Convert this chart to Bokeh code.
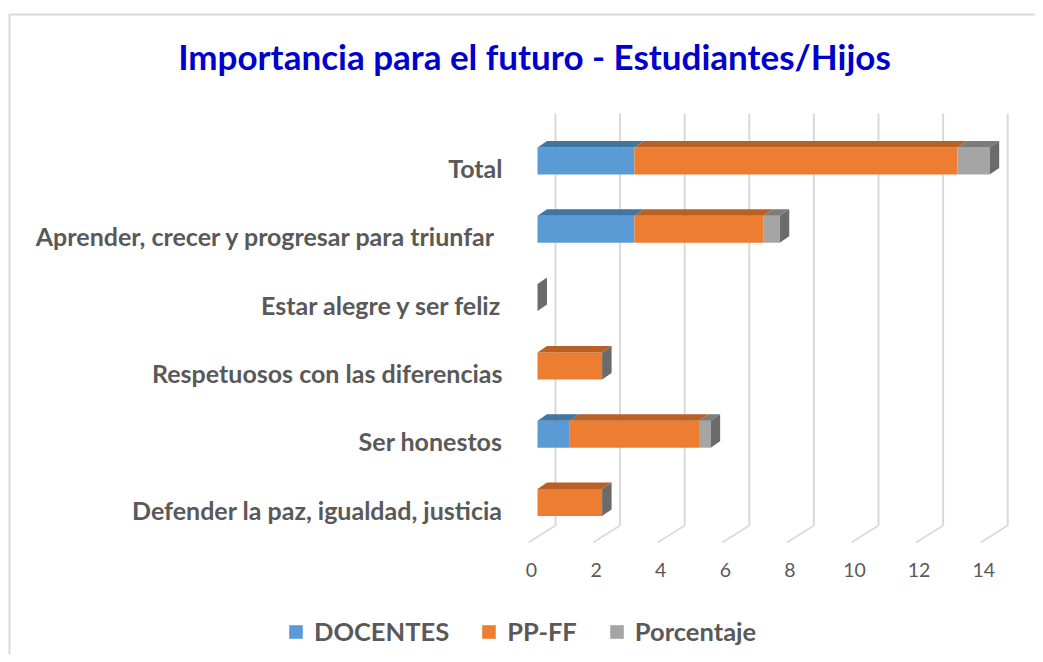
from bokeh.plotting import figure
from bokeh.models import Range1d, ColumnDataSource, Legend, LegendItem
from bokeh.core.properties import value
from bokeh.embed import file_html
from bokeh.resources import INLINE

# ---------------- data ----------------
categories = [
    "Total",
    "Aprender, crecer y progresar para triunfar ",
    "Estar alegre y ser feliz",
    "Respetuosos con las diferencias",
    "Ser honestos",
    "Defender la paz, igualdad, justicia",
]
docentes = [3, 3, 0, 0, 1, 0]
pp_ff = [10, 4, 0, 2, 4, 2]
porcentaje = [1.0, 0.5, 0, 0, 0.36, 0]
series_names = ["DOCENTES", "PP-FF", "Porcentaje"]
x_ticks = [0, 2, 4, 6, 8, 10, 12, 14]
title_text = "Importancia para el futuro - Estudiantes/Hijos"

# ---------------- styles ----------------
FRONT = ["#5B9BD5", "#ED7D31", "#A5A5A5"]
TOP = ["#4275A0", "#B96024", "#7C7C7C"]
SIDE = "#6B6B6B"
GRID = "#D9D9D9"
TXT = "#595959"
FONT = "Lato"

W, H = 1035, 654
PXU = 32.3   # px per value unit
X0 = 537     # canvas px of value 0 on the bars' front plane
PYU = 68.3   # px per category slot
Y0 = 502     # canvas px of the lowest category centre


def dx(px):
    return px / PXU


def dy(px):
    return px / PYU


def cx(px):
    return (px - X0) / PXU


def cy(py):
    return (Y0 - py) / PYU


p = figure(width=W, height=H,
           x_range=Range1d(cx(0), cx(W)), y_range=Range1d(cy(H), cy(0)),
           output_backend="svg", toolbar_location=None,
           x_axis_location=None, y_axis_location=None, min_border=0)
p.grid.visible = False
p.outline_line_color = None
p.background_fill_color = "white"
p.border_fill_color = "white"

# chart border (left and top)
p.line(x=[cx(9), cx(9), cx(W)], y=[cy(H), cy(14), cy(14)], line_color=GRID, line_width=2)

# back-wall gridlines and floor lines
bx = [t + dx(18) for t in x_ticks]
p.segment(x0=bx, y0=[cy(525)] * len(bx), x1=bx, y1=[cy(113)] * len(bx),
          line_color=GRID, line_width=2)
p.segment(x0=bx, y0=[cy(525)] * len(bx), x1=[t - dx(9) for t in x_ticks],
          y1=[cy(542)] * len(bx), line_color=GRID, line_width=1.5)

# tick labels
p.text(x=[t - dx(6) for t in x_ticks], y=[cy(569)] * len(x_ticks),
       text=[str(t) for t in x_ticks], text_align="center", text_baseline="middle",
       text_font=value(FONT), text_font_size="19.5px", text_color=TXT)

# bars
n = len(categories)
ypos = [n - 1 - i for i in range(n)]
h = dy(13.5)
ddx, ddy = dx(9.5), dy(6.5)

series = [docentes, pp_ff, porcentaje]
lefts = []
acc = [0.0] * n
for s in series:
    lefts.append(list(acc))
    acc = [a + v for a, v in zip(acc, s)]
totals = acc

front_renderers = []
for k, s in enumerate(series):
    src = ColumnDataSource(dict(
        left=lefts[k], right=[l + v for l, v in zip(lefts[k], s)],
        bottom=[y - h for y in ypos], top=[y + h for y in ypos]))
    r = p.quad(left="left", right="right", bottom="bottom", top="top", source=src,
               fill_color=FRONT[k], line_color=None)
    front_renderers.append(r)
    xs, ys = [], []
    for l, v, y in zip(lefts[k], s, ypos):
        if v > 0:
            xs.append([l, l + v, l + v + ddx, l + ddx])
            ys.append([y + h, y + h, y + h + ddy, y + h + ddy])
    if xs:
        p.patches(xs=xs, ys=ys, fill_color=TOP[k], line_color=None)

sx, sy = [], []
for t, y in zip(totals, ypos):
    sx.append([t, t + ddx, t + ddx, t])
    sy.append([y + h, y + h + ddy, y - h + ddy, y - h])
p.patches(xs=sx, ys=sy, fill_color=SIDE, line_color=None)

# category labels
p.text(x=[cx(502)] * n, y=[y - dy(7) for y in ypos], text=categories,
       text_align="right", text_baseline="middle", text_font=value(FONT),
       text_font_style="bold", text_font_size="25px", text_color=TXT)

# title
p.text(x=[cx(534)], y=[cy(55)], text=[title_text], text_align="center",
       text_baseline="middle", text_font=value(FONT), text_font_style="bold",
       text_font_size="35px", text_color="#0000CC")

# legend
legend = Legend(items=[LegendItem(label=nm, renderers=[r])
                       for nm, r in zip(series_names, front_renderers)],
                orientation="horizontal", location=(287, 8), padding=0, margin=0,
                spacing=31, glyph_width=17, glyph_height=17, label_standoff=10,
                border_line_color=None, background_fill_alpha=0,
                label_text_font=FONT, label_text_font_style="bold",
                label_text_font_size="25.5px", label_text_color=TXT)
p.add_layout(legend, "center")

open("out.html", "w").write(file_html(p, INLINE))
